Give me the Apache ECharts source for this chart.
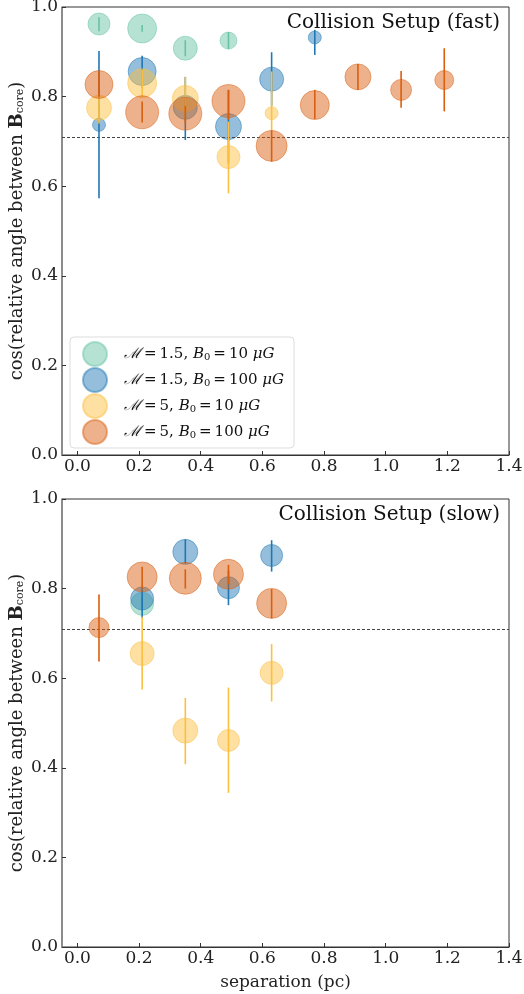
<!DOCTYPE html>
<html>
<head>
<meta charset="utf-8">
<script src="https://cdn.jsdelivr.net/npm/echarts@6/dist/echarts.min.js"></script>
<style>html,body{margin:0;padding:0;background:#fff}#c{width:524px;height:994px}</style>
</head>
<body>
<div id="c"></div>
<script>
// Each point: [separation (pc), cos angle, error low, error high, bubble value]
const fast_M15_B10 = [
  [0.07, 0.962, 0.946, 0.977, 11],
  [0.21, 0.952, 0.945, 0.960, 14.5],
  [0.35, 0.908, 0.890, 0.926, 12],
  [0.49, 0.925, 0.906, 0.944, 8.5]
];
const fast_M15_B100 = [
  [0.07, 0.737, 0.573, 0.902, 6.5],
  [0.21, 0.856, 0.820, 0.891, 14],
  [0.35, 0.776, 0.703, 0.844, 12],
  [0.49, 0.733, 0.650, 0.815, 13],
  [0.63, 0.839, 0.780, 0.899, 12],
  [0.77, 0.932, 0.893, 0.949, 6.5]
];
const fast_M5_B10 = [
  [0.07, 0.775, 0.740, 0.800, 12.5],
  [0.21, 0.830, 0.800, 0.860, 14.5],
  [0.35, 0.796, 0.750, 0.844, 13],
  [0.49, 0.665, 0.584, 0.744, 11.5],
  [0.63, 0.763, 0.725, 0.856, 6.5]
];
const fast_M5_B100 = [
  [0.07, 0.827, 0.800, 0.856, 14],
  [0.21, 0.765, 0.742, 0.789, 16.5],
  [0.35, 0.762, 0.741, 0.779, 16.5],
  [0.49, 0.790, 0.748, 0.815, 16.5],
  [0.63, 0.690, 0.655, 0.725, 15.5],
  [0.77, 0.781, 0.750, 0.815, 14.5],
  [0.91, 0.844, 0.815, 0.873, 13],
  [1.05, 0.815, 0.775, 0.857, 10.5],
  [1.19, 0.837, 0.767, 0.908, 9.5]
];
const slow_M15_B10 = [
  [0.21, 0.766, 0.750, 0.780, 11.5]
];
const slow_M15_B100 = [
  [0.21, 0.778, 0.734, 0.803, 11.5],
  [0.35, 0.882, 0.856, 0.910, 12.5],
  [0.49, 0.802, 0.763, 0.840, 11],
  [0.63, 0.874, 0.838, 0.908, 11]
];
const slow_M5_B10 = [
  [0.21, 0.655, 0.575, 0.737, 12],
  [0.35, 0.483, 0.408, 0.556, 12.5],
  [0.49, 0.461, 0.344, 0.579, 11],
  [0.63, 0.612, 0.548, 0.676, 11.5]
];
const slow_M5_B100 = [
  [0.07, 0.713, 0.637, 0.787, 10],
  [0.21, 0.826, 0.800, 0.849, 15],
  [0.35, 0.823, 0.800, 0.843, 16],
  [0.49, 0.832, 0.810, 0.853, 15],
  [0.63, 0.767, 0.734, 0.799, 15]
];
const xTicks = [0, 0.2, 0.4, 0.6, 0.8, 1.0, 1.2, 1.4];
const refLine = 0.7071;
const panelTitles = ['Collision Setup (fast)', 'Collision Setup (slow)'];
const groupNames = ['M1.5_B10', 'M1.5_B100', 'M5_B10', 'M5_B100'];
const legendLabels = {
  'M1.5_B10':  '{m|ℳ}{t|\u2009=\u20091.5, }{i|B}{s|0}{t|\u2009=\u200910 }{i|μG}',
  'M1.5_B100': '{m|ℳ}{t|\u2009=\u20091.5, }{i|B}{s|0}{t|\u2009=\u2009100 }{i|μG}',
  'M5_B10':    '{m|ℳ}{t|\u2009=\u20095, }{i|B}{s|0}{t|\u2009=\u200910 }{i|μG}',
  'M5_B100':   '{m|ℳ}{t|\u2009=\u20095, }{i|B}{s|0}{t|\u2009=\u2009100 }{i|μG}'
};
const colors = ['#66c2a5', '#1f77b4', '#fcbf3f', '#d95f0e'];

const SERIF = '"DejaVu Serif", serif';
const panels = [
  [fast_M15_B10, fast_M15_B100, fast_M5_B10, fast_M5_B100],
  [slow_M15_B10, slow_M15_B100, slow_M5_B10, slow_M5_B100]
];

const chart = echarts.init(document.getElementById('c'), null, {renderer: 'canvas'});

const grids = [
  {left: 62, top: 7, width: 447, height: 448, show: true, borderColor: '#333', borderWidth: 1,
   backgroundColor: 'transparent', containLabel: false, outerBoundsMode: 'none'},
  {left: 62, top: 499, width: 447, height: 448, show: true, borderColor: '#333', borderWidth: 1,
   backgroundColor: 'transparent', containLabel: false, outerBoundsMode: 'none'}
];

function xAxis(i) {
  return {
    type: 'value', gridIndex: i, min: -0.05, max: 1.4,
    name: i === 1 ? 'separation (pc)' : '',
    nameLocation: 'middle', nameGap: 27,
    nameTextStyle: {fontFamily: SERIF, fontSize: 17, color: '#222'},
    axisLine: {show: true, onZero: false, lineStyle: {color: '#333', width: 1}},
    axisTick: {show: true, inside: true, length: 4, customValues: xTicks, lineStyle: {color: '#333'}},
    axisLabel: {customValues: xTicks, formatter: v => v.toFixed(1), fontFamily: SERIF, fontSize: 17, color: '#222', margin: 3},
    splitLine: {show: false}
  };
}
function yAxis(i) {
  return {
    type: 'value', gridIndex: i, min: 0, max: 1, interval: 0.2,
    name: '{t|cos(relative angle between }{b|B}{s|core}{t|)}',
    nameLocation: 'middle', nameGap: 36, nameRotate: 90, nameMoveOverlap: false,
    nameTextStyle: {
      rich: {
        t: {fontFamily: SERIF, fontSize: 18, color: '#222'},
        b: {fontFamily: SERIF, fontSize: 18, fontWeight: 'bold', color: '#222'},
        s: {fontFamily: SERIF, fontSize: 11, color: '#222', padding: [7, 0, 0, 0]}
      }
    },
    axisLine: {show: true, onZero: false, lineStyle: {color: '#888', width: 1.5}},
    axisTick: {show: true, inside: true, length: 4, lineStyle: {color: '#333'}},
    axisLabel: {formatter: v => v.toFixed(1), fontFamily: SERIF, fontSize: 17, color: '#222', margin: 4},
    splitLine: {show: false}
  };
}

const series = [];
panels.forEach((groups, p) => {
  groups.forEach((data, g) => {
    const s = {
      type: 'scatter', name: groupNames[g], xAxisIndex: p, yAxisIndex: p,
      data: data.map(d => [d[0], d[1], d[4]]),
      symbol: 'circle',
      symbolSize: d => d[2] * 2,
      itemStyle: {color: colors[g], opacity: 0.48, borderColor: colors[g], borderWidth: 1},
      emphasis: {disabled: true},
      z: 2 + 2 * g,
      animation: false
    };
    if (g === 0) {
      s.markLine = {
        silent: true, symbol: 'none', animation: false,
        label: {show: false},
        lineStyle: {color: '#444', type: [3, 2], width: 1, opacity: 1},
        data: [{yAxis: refLine}]
      };
    }
    series.push(s);
    series.push({
      type: 'custom', name: 'err_' + p + '_' + g, xAxisIndex: p, yAxisIndex: p,
      data: data.map(d => [d[0], d[2], d[3]]),
      encode: {x: 0, y: [1, 2]},
      z: 3 + 2 * g,
      silent: true, animation: false,
      renderItem: (params, api) => {
        const a = api.coord([api.value(0), api.value(1)]);
        const b = api.coord([api.value(0), api.value(2)]);
        return {type: 'line', shape: {x1: a[0], y1: a[1], x2: b[0], y2: b[1]},
                style: {stroke: colors[g], lineWidth: 1.6}};
      }
    });
  });
});

const option = {
  backgroundColor: '#fff',
  animation: false,
  grid: grids,
  xAxis: [xAxis(0), xAxis(1)],
  yAxis: [yAxis(0), yAxis(1)],
  title: panelTitles.map((t, i) => ({
    text: t, right: 19, top: i === 0 ? 8 : 500,
    textStyle: {fontFamily: SERIF, fontSize: 20, fontWeight: 'normal', color: '#111'}
  })),
  legend: {
    data: groupNames, orient: 'vertical', left: 70, top: 337,
    padding: [4, 10, 3, 12], itemGap: 0, itemWidth: 24, itemHeight: 24,
    icon: 'circle',
    backgroundColor: '#fff', borderColor: '#ddd', borderWidth: 1, borderRadius: 4,
    formatter: n => legendLabels[n],
    selectedMode: false,
    textStyle: {
      padding: [0, 0, 0, 12],
      rich: {
        m: {fontFamily: SERIF, fontSize: 15, fontStyle: 'italic', color: '#111', lineHeight: 17},
        t: {fontFamily: SERIF, fontSize: 15, color: '#111', lineHeight: 17},
        i: {fontFamily: SERIF, fontSize: 15, fontStyle: 'italic', color: '#111', lineHeight: 17},
        s: {fontFamily: SERIF, fontSize: 10, color: '#111', lineHeight: 11, padding: [5, 0, 0, 0], verticalAlign: 'bottom'}
      }
    }
  },
  series: series
};
chart.setOption(option);
</script>
</body>
</html>
